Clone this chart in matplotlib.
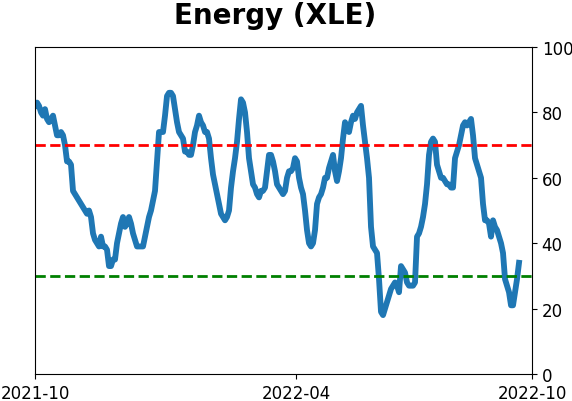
import numpy as np
import matplotlib
matplotlib.use("Agg")
from matplotlib import pyplot as plt

# XLE reading, one value per trading session
values = [
    82, 83, 82, 80, 79, 81, 78, 77, 78, 79,
    76, 73, 73, 74, 73, 70, 65, 65, 64, 56,
    55, 54, 53, 52, 51, 50, 49, 50, 48, 43,
    41, 40, 39, 42, 39, 39, 38, 33, 33, 35,
    35, 40, 43, 46, 48, 45, 46, 48, 46, 43,
    41, 39, 39, 39, 39, 42, 45, 48, 50, 53,
    56, 65, 74, 74, 74, 79, 85, 86, 86, 85,
    81, 77, 74, 73, 72, 68, 68, 67, 67, 70,
    74, 76, 79, 77, 76, 74, 74, 72, 66, 61,
    58, 55, 52, 49, 48, 47, 48, 50, 57, 62,
    66, 71, 78, 84, 83, 80, 74, 66, 62, 58,
    57, 55, 54, 56, 56, 57, 62, 67, 67, 65,
    62, 58, 57, 56, 55, 56, 60, 62, 62, 63,
    66, 65, 60, 57, 55, 50, 44, 40, 39, 40,
    44, 52, 54, 55, 57, 60, 60, 63, 65, 67,
    62, 59, 62, 66, 72, 77, 75, 74, 77, 79,
    78, 80, 81, 82, 76, 71, 66, 60, 45, 39,
    38, 37, 29, 19, 18, 20, 22, 24, 26, 27,
    28, 27, 25, 33, 32, 31, 28, 27, 27, 27,
    28, 42, 43, 45, 48, 52, 58, 67, 71, 72,
    71, 64, 62, 60, 60, 59, 58, 58, 57, 57,
    66, 68, 70, 73, 76, 77, 76, 77, 78, 73,
    66, 64, 62, 60, 52, 47, 47, 46, 42, 47,
    45, 44, 42, 40, 37, 29, 27, 25, 21, 21,
    25, 29, 34,
]

tick_labels = ["2021-10", "2022-04", "2022-10"]
tick_sessions = [0, 130.5, 248.5]
upper, lower = 70, 30

sessions = np.arange(len(values))

fig = plt.figure(figsize=(5.72, 4.02), dpi=100)
ax = fig.add_axes([0.0612, 0.0672, 0.8689, 0.8134])

ax.plot(sessions, values, color="#1f77b4", linewidth=4.2)
ax.axhline(upper, color="red", linestyle="--", linewidth=2)
ax.axhline(lower, color="green", linestyle="--", linewidth=2)

ax.set_xlim(tick_sessions[0], tick_sessions[-1])
ax.set_ylim(0, 100)
ax.set_xticks(tick_sessions)
ax.set_xticklabels(tick_labels)
ax.set_yticks(np.arange(0, 101, 20))
ax.yaxis.tick_right()
ax.tick_params(labelsize=12)

fig.suptitle("Energy (XLE)", fontsize=20, fontweight="bold", x=0.481, y=0.995)

plt.savefig("out.png", dpi=100)
